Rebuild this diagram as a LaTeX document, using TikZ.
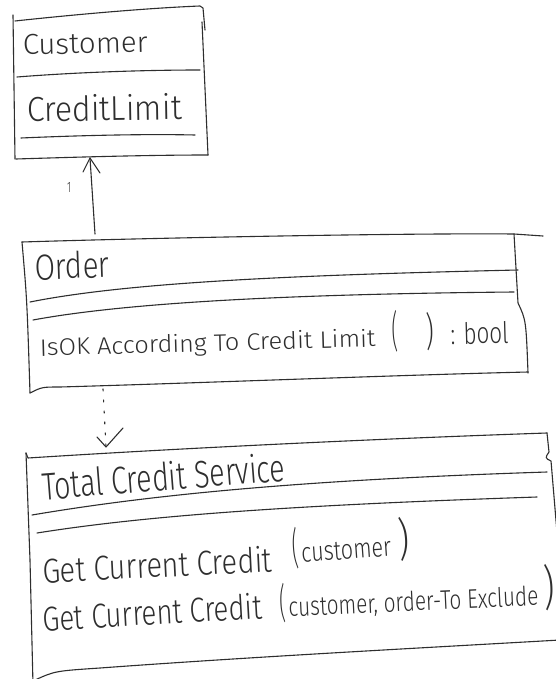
\documentclass[tikz,border=0pt]{standalone}
\usepackage{fontspec}
\usepackage{graphicx}
\newfontfamily\handfont{Fira Sans Light}
\definecolor{ink}{HTML}{2E2E2E}
\tikzset{
  pen/.style={draw=ink, line width=1.1pt, line cap=round, line join=round},
  hand/.style={inner sep=0pt, outer sep=0pt, anchor=base west, text=ink, font=\handfont},
  dots/.style={pen, dash pattern=on 2pt off 9pt},
}
% text stretched to a given width and height (in pt)
\newcommand{\handtext}[3]{\resizebox{#1pt}{#2pt}{#3}}

\begin{document}
\begin{tikzpicture}[x=1pt,y=-1pt]
\useasboundingbox (0,0) rectangle (556,679);
\fill[white] (0,0) rectangle (556,679);
\clip (0,0) rectangle (556,679);

% ---------- Customer class ----------
\draw[pen] (13,15) -- (15,159);
\draw[pen] (15,21) .. controls (80,14) and (150,8) .. (200,6) -- (203,8) -- (205,30);
\draw[pen] (202,22) -- (208,155);
\draw[pen] (16,159) .. controls (80,157) and (150,155) .. (208,155);
\draw[pen] (17,77) .. controls (80,72) and (150,70) .. (200,70);
\draw[pen] (21,138) .. controls (90,135) and (150,134) .. (195,135);
\node[hand, rotate=1.4] (custName) at (23,55) {\handtext{125}{20}{Customer}};
\node[hand, rotate=1] (custAttr) at (27,122) {\handtext{155}{26}{CreditLimit}};

% ---------- Order class ----------
\draw[pen] (22,242) .. controls (150,238) and (400,233) .. (514,234) -- (543,236);
\draw[pen] (22,242) .. controls (27,300) .. (30,393);
\draw[pen] (514,234) -- (518,303) .. controls (526,320) .. (528,373);
\draw[pen] (30,393) .. controls (42,387) .. (60,387) .. controls (200,383) and (400,375) .. (528,372);
\draw[pen] (30,302) .. controls (130,282) and (300,275) .. (518,270);
\draw[pen] (33,320) .. controls (130,302) and (300,294) .. (514,292);
\node[hand, rotate=2] (ordName) at (35,280) {\handtext{75}{27}{Order}};
\node[hand, rotate=1.6] (ordOp) at (40,356)
  {\handtext{336}{18}{IsOK According To Credit Limit}\hspace{17pt}%
   \handtext{6}{36}{(}\hspace{28pt}\handtext{8}{33}{)}\hspace{16pt}%
   \handtext{58}{22}{: bool}};

% ---------- Total Credit Service class ----------
\draw[pen] (26,453) -- (28,458) .. controls (200,447) and (400,438) .. (547,433);
\draw[pen] (547,433) -- (549,452) .. controls (545,458) .. (551,461) -- (561,580);
\draw[pen] (26,453) -- (30,560) -- (33,685);
\draw[pen] (35,680) .. controls (55,671) .. (100,668) .. controls (250,657) and (420,648) .. (560,640);
\draw[pen] (32,515) .. controls (150,495) and (300,480) .. (547,472);
\draw[pen] (37,533) .. controls (150,515) and (300,505) .. (537,497);
\node[hand, rotate=4.5] (tcsName) at (43,500) {\handtext{244}{29}{Total Credit Service}};
\node[hand, rotate=2.8] (tcsOpA) at (43,583) {\handtext{230}{26}{Get Current Credit}};
\node[hand, rotate=4] (tcsArgA) at (293,563)
  {\handtext{6}{36}{(}\hspace{3pt}\handtext{90}{18}{customer}\hspace{8pt}\handtext{11}{38}{)}};
\node[hand, rotate=3.2] (tcsOpB) at (43,631) {\handtext{220}{26}{Get Current Credit}};
\node[hand, rotate=2.6] (tcsArgB) at (280,617)
  {\handtext{6}{34}{(}\hspace{3pt}\handtext{250}{20}{customer, order-To Exclude}\hspace{6pt}\handtext{11}{40}{)}};

% ---------- association Order -> Customer ----------
\coordinate (custArr) at (90,158);
\coordinate (ordArr) at (95,234);
\draw[pen] (ordArr) -- (custArr);
\draw[pen] (custArr) ++(-7,14) -- (custArr) -- ++(10,15);
\node[hand] (mult) at (67,192) {\handtext{4}{10}{1}};

% ---------- dependency Order -> Total Credit Service ----------
\coordinate (ordDep) at (103,389);
\coordinate (tcsArr) at (106,447);
\draw[dots] (ordDep) -- (tcsArr);
\draw[pen] (tcsArr) ++(-9,-10) -- (tcsArr) -- ++(17,-19);
\end{tikzpicture}
\end{document}
